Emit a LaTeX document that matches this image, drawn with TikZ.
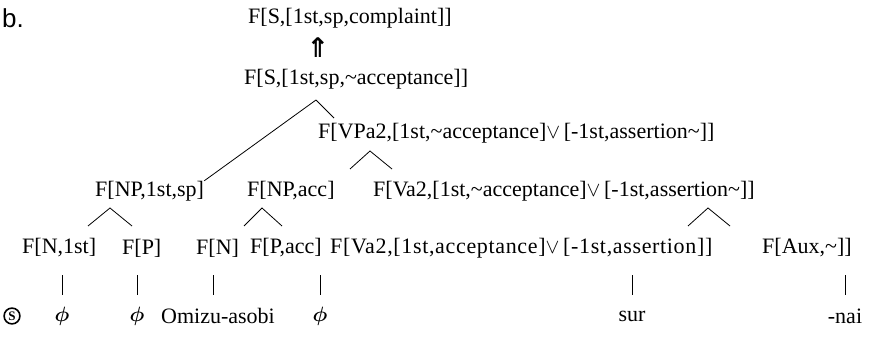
\documentclass[tikz,border=0pt]{standalone}
\usepackage{fontspec}
\setmainfont{Liberation Serif}
\newfontfamily\labfam{Liberation Sans}
\newfontfamily\symfam{DejaVu Sans}
\usetikzlibrary{calc}
\newcommand{\tld}{\textasciitilde}
\newcommand{\vor}{$\vee$\,}
\begin{document}
\begin{tikzpicture}[x=1pt,y=-1pt,
  lab/.style={anchor=west,inner sep=0pt,font=\fontsize{22}{26}\selectfont},
  leaf/.style={anchor=center,inner sep=0pt,font=\fontsize{22}{26}\selectfont},
  phil/.style={leaf,font=\fontsize{22}{26}\selectfont\boldmath},
  br/.style={line width=0.8pt},
]
\useasboundingbox (0,0) rectangle (883,350);
% title
\node[anchor=west,inner sep=0pt,font=\labfam\fontsize{26}{30}\selectfont] (b) at (2,18) {b.};
% rows
\node[lab] (S1) at (248,18) {F[S,[1st,sp,complaint]]};
\node[inner sep=0pt,font=\symfam\bfseries\fontsize{27}{29}\selectfont] (arr) at (318,48) {⇑};
\node[lab] (S2) at (244,79) {F[S,[1st,sp,\tld acceptance]]};
\node[lab] (VP) at (318,133) {F[VPa2,[1st,\tld acceptance]\vor[-1st,assertion\tld]]};
\node[lab] (NP1) at (95,191) {F[NP,1st,sp]};
\node[lab] (NPa) at (247,191) {F[NP,acc]};
\node[lab] (VA1) at (373,191) {F[Va2,[1st,\tld acceptance]\vor[-1st,assertion\tld]]};
\node[lab] (N1) at (22,248) {F[N,1st]};
\node[lab] (P1) at (122,248) {F[P]};
\node[lab] (N2) at (196,248) {F[N]};
\node[lab] (P2) at (250,248) {F[P,acc]};
\node[lab,font=\fontsize{22}{26}\selectfont\addfontfeature{LetterSpace=3}] (VA2) at (330,248) {F[Va2,[1st,acceptance]\vor[-1st,assertion]]};
\node[lab] (AUX) at (762,248) {F[Aux,\tld]]};
% leaves
\node[circle,draw,line width=1.6pt,inner sep=1.6pt,font=\bfseries\fontsize{13}{14}\selectfont] (circ) at (12,316) {S};
\node[phil] (L1) at (62,316) {$\phi$};
\node[phil] (L2) at (137,316) {$\phi$};
\node[leaf] (L3) at (218,316) {Omizu-asobi};
\node[phil] (L4) at (320,316) {$\phi$};
\node[leaf] (L5) at (632,316) {sur};
\node[leaf] (L6) at (845,316) {-nai};
% branches
\coordinate (s2a) at (316,100);
\coordinate (s2r) at (334,118);
\draw[br] (s2a) -- (NP1.north east);
\draw[br] (s2a) -- (s2r);
\coordinate (vpa) at (370,151);
\coordinate (vpl) at (350,169);
\coordinate (vpr) at (392,169);
\draw[br] (vpl) -- (vpa) -- (vpr);
\coordinate (n1a) at (110,208);
\coordinate (n1l) at (88,226);
\coordinate (n1r) at (132,226);
\draw[br] (n1l) -- (n1a) -- (n1r);
\coordinate (naa) at (262,208);
\coordinate (nal) at (244,226);
\coordinate (nar) at (282,226);
\draw[br] (nal) -- (naa) -- (nar);
\coordinate (vaa) at (708,208);
\coordinate (val) at (688,226);
\coordinate (var) at (730,226);
\draw[br] (val) -- (vaa) -- (var);
% bars
\foreach \n/\x in {1/62,2/137,3/213,4/320,5/632,6/845}{
  \draw[br] (\x,275) coordinate (bt\n) -- (\x,295) coordinate (bb\n);
}
\end{tikzpicture}
\end{document}
